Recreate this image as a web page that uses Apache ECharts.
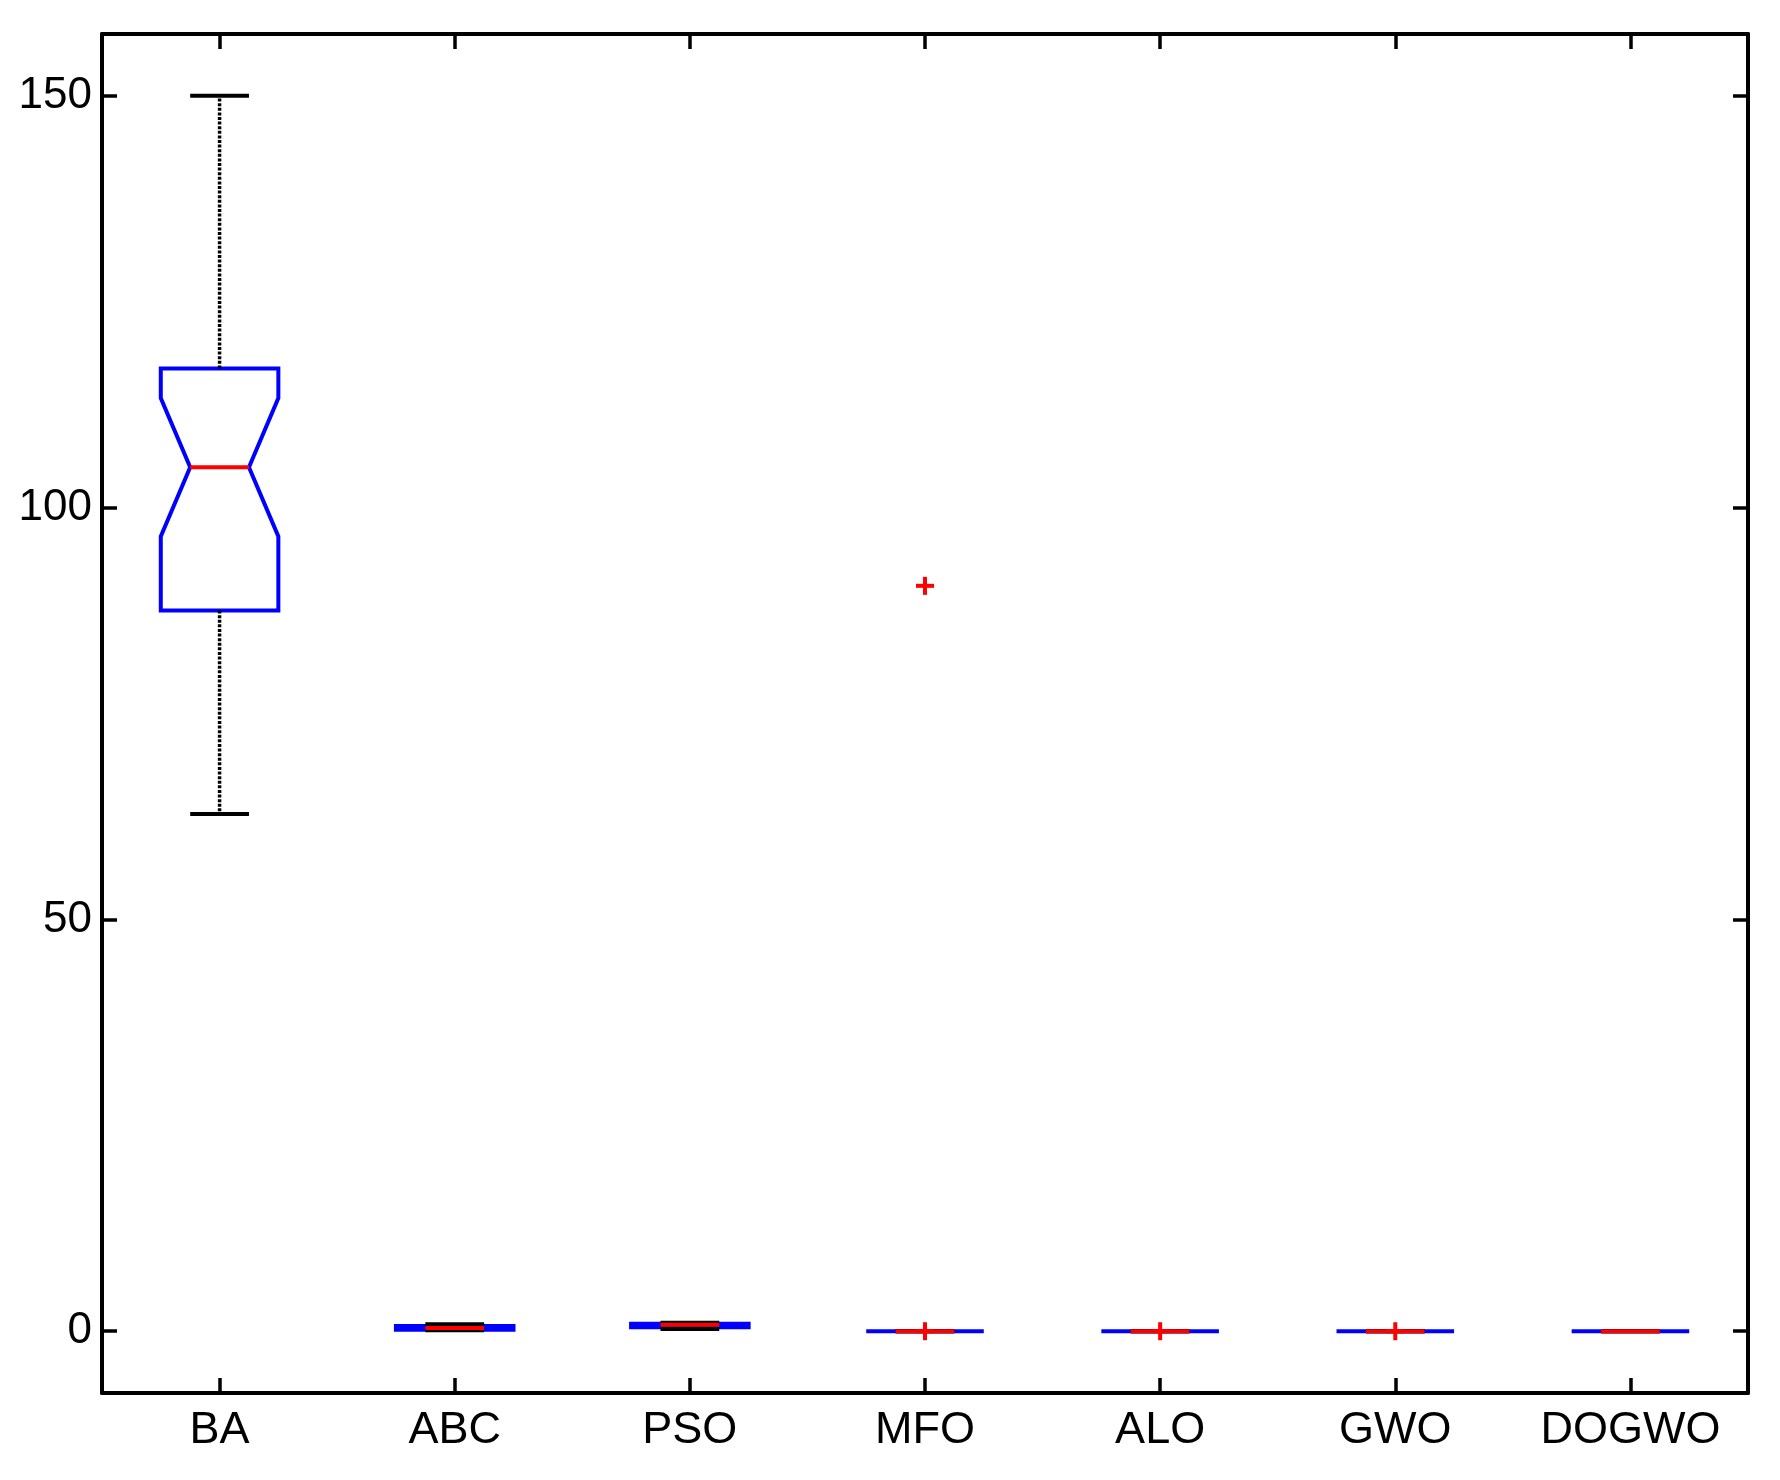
<!DOCTYPE html>
<html>
<head>
<meta charset="utf-8">
<script src="https://cdn.jsdelivr.net/npm/echarts@6/dist/echarts.min.js"></script>
<style>
html,body{margin:0;padding:0;background:#fff;}
#chart{width:1780px;height:1480px;}
</style>
</head>
<body>
<div id="chart"></div>
<script>
// ---- data ----
const categories = ['BA', 'ABC', 'PSO', 'MFO', 'ALO', 'GWO', 'DOGWO'];
const whiskerLow  = [62.8, 0.11, 0.27, 0, 0, 0, 0];
const quartile1   = [87.5, 0.18, 0.47, 0, 0, 0, 0];
const medians     = [104.9, 0.39, 0.78, 0, 0, 0, 0];
const quartile3   = [116.9, 0.63, 0.91, 0, 0, 0, 0];
const whiskerHigh = [150.0, 0.84, 1.03, 0, 0, 0, 0];
const notchLow    = [96.5, 0.31, 0.71, 0, 0, 0, 0];
const notchHigh   = [113.3, 0.47, 0.85, 0, 0, 0, 0];
const outlierCats   = ['MFO', 'MFO', 'ALO', 'GWO'];
const outlierValues = [90.5, 0.0, 0.0, 0.0];
const yTicks = [0, 50, 100, 150];
const yMin = -7.5, yMax = 157.5;

const boxData = categories.map((c, i) => [i, whiskerLow[i], quartile1[i], medians[i], quartile3[i], whiskerHigh[i], notchLow[i], notchHigh[i]]);
const outlierData = outlierCats.map((c, i) => [categories.indexOf(c), outlierValues[i]]);

function renderBox(params, api) {
  const xi = api.value(0);
  const bw = api.size([1, 0])[0];
  const half = bw * 0.25, capHalf = bw * 0.125, inset = bw * 0.125;
  const P = v => api.coord([xi, v]);
  const cx = P(0)[0];
  const yLo = P(api.value(1))[1], yQ1 = P(api.value(2))[1], yMed = P(api.value(3))[1];
  const yQ3 = P(api.value(4))[1], yHi = P(api.value(5))[1];
  const yNlo = P(api.value(6))[1], yNhi = P(api.value(7))[1];
  const L = cx - half, R = cx + half;
  return {
    type: 'group',
    children: [
      { type: 'polygon', shape: { points: [[L, yQ3], [R, yQ3], [R, yNhi], [R - inset, yMed], [R, yNlo], [R, yQ1], [L, yQ1], [L, yNlo], [L + inset, yMed], [L, yNhi]] },
        style: { fill: 'none', stroke: '#0000ff', lineWidth: 4, lineJoin: 'miter' } },
      { type: 'line', shape: { x1: cx, y1: yQ3, x2: cx, y2: yHi }, style: { stroke: '#000', lineWidth: 3.5, lineDash: [3, 1.6] } },
      { type: 'line', shape: { x1: cx, y1: yQ1, x2: cx, y2: yLo }, style: { stroke: '#000', lineWidth: 3.5, lineDash: [3, 1.6] } },
      { type: 'line', shape: { x1: cx - capHalf, y1: yHi, x2: cx + capHalf, y2: yHi }, style: { stroke: '#000', lineWidth: 4 } },
      { type: 'line', shape: { x1: cx - capHalf, y1: yLo, x2: cx + capHalf, y2: yLo }, style: { stroke: '#000', lineWidth: 4 } },
      { type: 'line', shape: { x1: L + inset, y1: yMed, x2: R - inset, y2: yMed }, style: { stroke: '#ff0000', lineWidth: 4 } }
    ]
  };
}

function renderOutlier(params, api) {
  const p = api.coord([api.value(0), api.value(1)]);
  const s = 9;
  return {
    type: 'group',
    children: [
      { type: 'line', shape: { x1: p[0] - s, y1: p[1], x2: p[0] + s, y2: p[1] }, style: { stroke: '#ff0000', lineWidth: 4 } },
      { type: 'line', shape: { x1: p[0], y1: p[1] - s, x2: p[0], y2: p[1] + s }, style: { stroke: '#ff0000', lineWidth: 4 } }
    ]
  };
}

const font = 'Liberation Sans, Arial, sans-serif';
const axisLine = { show: true, onZero: false, lineStyle: { color: '#000', width: 4 } };
const tickStyle = { color: '#000', width: 3.5 };
const chart = echarts.init(document.getElementById('chart'), null, { renderer: 'canvas' });
chart.setOption({
  animation: false,
  backgroundColor: '#fff',
  grid: { left: 102, right: 32, top: 34, bottom: 87, containLabel: false },
  xAxis: [
    { type: 'category', data: categories, position: 'bottom', boundaryGap: true,
      axisLine: axisLine,
      axisTick: { show: true, inside: true, alignWithLabel: true, interval: 0, length: 15, lineStyle: tickStyle },
      axisLabel: { show: true, interval: 0, margin: 15, color: '#000', fontSize: 45, fontFamily: font },
      splitLine: { show: false } },
    { type: 'category', data: categories, position: 'top', boundaryGap: true,
      axisLine: axisLine,
      axisTick: { show: true, inside: true, alignWithLabel: true, interval: 0, length: 15, lineStyle: tickStyle },
      axisLabel: { show: false }, splitLine: { show: false } }
  ],
  yAxis: [
    { type: 'value', min: yMin, max: yMax, position: 'left',
      axisLine: axisLine,
      axisTick: { show: true, inside: true, length: 15, customValues: yTicks, lineStyle: tickStyle },
      axisLabel: { show: true, margin: 10, customValues: yTicks, color: '#000', fontSize: 44, fontFamily: font },
      splitLine: { show: false } },
    { type: 'value', min: yMin, max: yMax, position: 'right',
      axisLine: axisLine,
      axisTick: { show: true, inside: true, length: 15, customValues: yTicks, lineStyle: tickStyle },
      axisLabel: { show: false }, splitLine: { show: false } }
  ],
  series: [
    { type: 'custom', xAxisIndex: 0, yAxisIndex: 0, renderItem: renderBox, data: boxData, clip: false, z: 2 },
    { type: 'custom', xAxisIndex: 0, yAxisIndex: 0, renderItem: renderOutlier, data: outlierData, clip: false, z: 3 }
  ]
});
</script>
</body>
</html>
